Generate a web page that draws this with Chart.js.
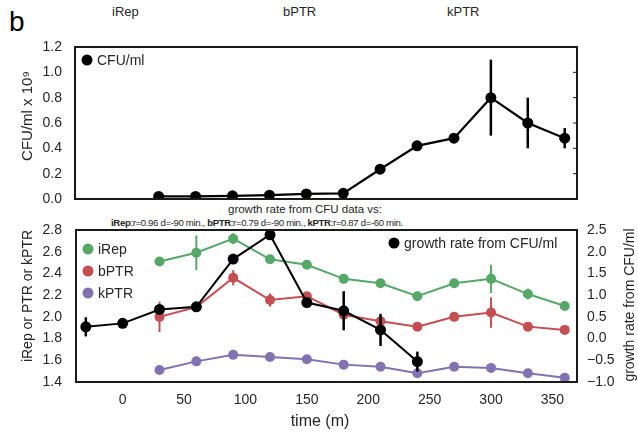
<!DOCTYPE html>
<html>
<head>
<meta charset="utf-8">
<script src="https://cdn.jsdelivr.net/npm/chart.js@4"></script>
<style>
  body { margin: 0; background: #fff; }
  #wrap { position: relative; width: 638px; height: 432px; font-family: 'Liberation Sans', Arial, Helvetica, sans-serif; color: #262626; }
  canvas { position: absolute; left: 0; top: 0; }
  .lbl { position: absolute; white-space: nowrap; line-height: 1; }
</style>
</head>
<body>
<div id="wrap">
  <div class="lbl" style="left:9px; top:8px; font-size:28px; color:#000;">b</div>
  <div class="lbl" style="left:112px; top:5px; font-size:13px;">iRep</div>
  <div class="lbl" style="left:283px; top:5px; font-size:13px;">bPTR</div>
  <div class="lbl" style="left:447px; top:5px; font-size:13px;">kPTR</div>
  <div class="lbl" style="left:228px; top:204px; font-size:11.5px;">growth rate from CFU data vs:</div>
  <div class="lbl" style="left:111px; top:218px; font-size:9.6px; letter-spacing:-0.35px;"><b>iRep</b>:r=0.96 d=-90 min., <b>bPTR</b>:r=0.79 d=-90 min., <b>kPTR</b>:r=0.87 d=-60 min.</div>
  <canvas id="topChart" width="638" height="432"></canvas>
  <canvas id="bottomChart" width="638" height="432"></canvas>
</div>
<script>
// --- data ---
const xMin = -38, xMax = 370;
const timeTicks = [0, 50, 100, 150, 200, 250, 300, 350];

const cfuTimes = [30, 60, 90, 120, 150, 180, 210, 240, 270, 300, 330, 360];
const cfuValues = [0.02, 0.02, 0.025, 0.03, 0.04, 0.045, 0.235, 0.42, 0.48, 0.80, 0.60, 0.48];
const cfuErr = [0, 0, 0, 0, 0, 0, 0, 0, 0, 0.30, 0.20, 0.08];
const cfuTicks = [0, 0.2, 0.4, 0.6, 0.8, 1.0, 1.2];

const ptrTimes = [30, 60, 90, 120, 150, 180, 210, 240, 270, 300, 330, 360];
const irep = [2.51, 2.59, 2.72, 2.53, 2.48, 2.35, 2.31, 2.19, 2.31, 2.35, 2.21, 2.10];
const irepErr = [0, 0.16, 0.05, 0, 0, 0, 0, 0, 0, 0.13, 0.05, 0];
const bptr = [2.00, 2.09, 2.36, 2.155, 2.19, 2.02, 1.96, 1.91, 2.00, 2.04, 1.91, 1.88];
const bptrErr = [0.14, 0, 0.07, 0.06, 0, 0, 0, 0, 0, 0.14, 0.02, 0];
const kptr = [1.51, 1.59, 1.65, 1.63, 1.61, 1.56, 1.54, 1.48, 1.54, 1.53, 1.48, 1.44];
const kptrErr = [0, 0.03, 0, 0, 0, 0, 0, 0, 0, 0, 0, 0];
const ptrTicks = [1.4, 1.6, 1.8, 2.0, 2.2, 2.4, 2.6, 2.8];

const growthTimes = [-30, 0, 30, 60, 90, 120, 150, 180, 210, 240];
const growth = [0.27, 0.35, 0.67, 0.73, 1.83, 2.39, 0.83, 0.64, 0.20, -0.53];
const growthErr = [0.22, 0, 0, 0, 0, 0, 0, 0.45, 0.37, 0.23];
const growthTicks = [-1.0, -0.5, 0, 0.5, 1.0, 1.5, 2.0, 2.5];

const FONT = "'Liberation Sans', Arial, Helvetica, sans-serif";
const TEXT = '#262626';
Chart.defaults.font.family = FONT;
Chart.defaults.color = TEXT;

const pts = (xs, ys) => xs.map((x, i) => ({ x: x, y: ys[i] }));

// --- plugins ---
const errorBars = {
    id: 'errorBars',
    beforeDatasetDraw(chart, args) {
        const ds = chart.data.datasets[args.index];
        if (!ds.errorBars) return;
        const scale = chart.scales[args.meta.yAxisID];
        const ctx = chart.ctx;
        ctx.save();
        ctx.strokeStyle = ds.borderColor;
        ctx.lineWidth = ds.errWidth || 2;
        args.meta.data.forEach((pt, i) => {
            const e = ds.errorBars[i];
            if (!e) return;
            const v = ds.data[i].y;
            ctx.beginPath();
            ctx.moveTo(pt.x, scale.getPixelForValue(v - e));
            ctx.lineTo(pt.x, scale.getPixelForValue(v + e));
            ctx.stroke();
        });
        ctx.restore();
    }
};

const frame = {
    id: 'frame',
    afterDatasetsDraw(chart, args, opts) {
        const { ctx, chartArea: a } = chart;
        ctx.save();
        ctx.strokeStyle = '#1a1a1a';
        ctx.lineWidth = 2;
        ctx.strokeRect(a.left, a.top, a.right - a.left, a.bottom - a.top);
        if (opts.rightTicks) {
            ctx.lineWidth = 1;
            const s = chart.scales.y;
            s.ticks.forEach(t => {
                const y = s.getPixelForValue(t.value);
                ctx.beginPath();
                ctx.moveTo(a.right, y);
                ctx.lineTo(a.right - 4, y);
                ctx.stroke();
            });
        }
        ctx.restore();
    }
};

const keyLegend = {
    id: 'keyLegend',
    afterDraw(chart, args, opts) {
        const ctx = chart.ctx;
        ctx.save();
        ctx.font = '14px ' + FONT;
        ctx.textBaseline = 'middle';
        (opts.boxes || []).forEach(box => {
            box.items.forEach((idx, k) => {
                const ds = chart.data.datasets[idx];
                const y = box.y + k * box.gap;
                ctx.fillStyle = ds.borderColor;
                ctx.beginPath();
                ctx.arc(box.x, y, 5.5, 0, Math.PI * 2);
                ctx.fill();
                ctx.fillStyle = TEXT;
                ctx.fillText(ds.label, box.x + 10, y + 1);
            });
        });
        ctx.restore();
    }
};

const axisTitles = {
    id: 'axisTitles',
    afterDraw(chart, args, opts) {
        const ctx = chart.ctx;
        (opts.titles || []).forEach(t => {
            ctx.save();
            ctx.translate(t.x, t.y);
            ctx.rotate(t.rot || 0);
            ctx.font = (t.size || 14) + 'px ' + FONT;
            ctx.fillStyle = TEXT;
            ctx.textAlign = 'center';
            ctx.textBaseline = 'middle';
            ctx.fillText(t.text, 0, 0);
            ctx.restore();
        });
    }
};

const fixedTicks = list => s => { s.ticks = list.map(v => ({ value: v })); };
const minusFmt = (v, d) => (v < 0 ? '\u2212' : '') + Math.abs(v).toFixed(d);
const noGrid = { display: false, drawTicks: false };

// --- top panel: CFU/ml ---
new Chart(document.getElementById('topChart'), {
    type: 'line',
    data: {
        datasets: [{
            label: 'CFU/ml',
            data: pts(cfuTimes, cfuValues),
            errorBars: cfuErr,
            errWidth: 2.5,
            borderColor: '#000',
            backgroundColor: '#000',
            borderWidth: 2.2,
            pointRadius: 5.5,
            pointBorderWidth: 0,
            pointBackgroundColor: '#000'
        }]
    },
    options: {
        responsive: false,
        animation: false,
        events: [],
        layout: { padding: { top: 47, bottom: 233, left: 0, right: 61 } },
        scales: {
            x: { type: 'linear', min: xMin, max: xMax, display: false },
            y: {
                min: 0, max: 1.2,
                afterFit: s => { s.width = 75; },
                afterBuildTicks: fixedTicks(cfuTicks),
                grid: noGrid,
                border: { display: false },
                ticks: { padding: 13, font: { size: 14 }, callback: v => v.toFixed(1) }
            }
        },
        plugins: {
            legend: { display: false },
            tooltip: { enabled: false },
            frame: { rightTicks: true },
            keyLegend: { boxes: [{ x: 87, y: 60, gap: 0, items: [0] }] },
            axisTitles: { titles: [{ text: 'CFU/ml x 10\u2079', x: 28, y: 116, rot: -Math.PI / 2, size: 15 }] }
        }
    },
    plugins: [errorBars, frame, keyLegend, axisTitles]
});

// --- bottom panel: iRep / bPTR / kPTR vs growth rate ---
const seriesStyle = color => ({
    borderColor: color,
    backgroundColor: color,
    pointBackgroundColor: color,
    borderWidth: 2,
    pointRadius: 5,
    pointBorderWidth: 0,
    errWidth: 2,
    yAxisID: 'y'
});

new Chart(document.getElementById('bottomChart'), {
    type: 'line',
    data: {
        datasets: [
            Object.assign({}, seriesStyle('#000'), {
                label: 'growth rate from CFU/ml', data: pts(growthTimes, growth), errorBars: growthErr,
                yAxisID: 'y2', pointRadius: 5.5, errWidth: 2.5
            }),
            Object.assign({}, seriesStyle('#55a868'), { label: 'iRep', data: pts(ptrTimes, irep), errorBars: irepErr }),
            Object.assign({}, seriesStyle('#c44e52'), { label: 'bPTR', data: pts(ptrTimes, bptr), errorBars: bptrErr }),
            Object.assign({}, seriesStyle('#8172b2'), { label: 'kPTR', data: pts(ptrTimes, kptr), errorBars: kptrErr })
        ]
    },
    options: {
        responsive: false,
        animation: false,
        events: [],
        layout: { padding: { top: 230, bottom: 0, left: 0, right: 0 } },
        scales: {
            x: {
                type: 'linear', min: xMin, max: xMax,
                afterFit: s => { s.height = 50; },
                afterBuildTicks: fixedTicks(timeTicks),
                grid: noGrid,
                border: { display: false },
                ticks: { padding: 10, font: { size: 14 }, maxRotation: 0 }
            },
            y: {
                position: 'left', min: 1.4, max: 2.8,
                afterFit: s => { s.width = 76; },
                afterBuildTicks: fixedTicks(ptrTicks),
                grid: noGrid,
                border: { display: false },
                ticks: { padding: 14, font: { size: 14 }, callback: v => v.toFixed(1) }
            },
            y2: {
                position: 'right', min: -1.0, max: 2.5,
                afterFit: s => { s.width = 61; },
                afterBuildTicks: fixedTicks(growthTicks),
                grid: noGrid,
                border: { display: false },
                ticks: { padding: 10, font: { size: 14 }, callback: v => minusFmt(v, 1) }
            }
        },
        plugins: {
            legend: { display: false },
            tooltip: { enabled: false },
            frame: { rightTicks: false },
            keyLegend: { boxes: [
                { x: 88, y: 249, gap: 22, items: [1, 2, 3] },
                { x: 394, y: 243, gap: 0, items: [0] }
            ] },
            axisTitles: { titles: [
                { text: 'iRep or PTR or kPTR', x: 28, y: 296, rot: -Math.PI / 2 },
                { text: 'growth rate from CFU/ml', x: 630, y: 305, rot: -Math.PI / 2 },
                { text: 'time (m)', x: 320, y: 422, size: 16 }
            ] }
        }
    },
    plugins: [errorBars, frame, keyLegend, axisTitles]
});
</script>
</body>
</html>
